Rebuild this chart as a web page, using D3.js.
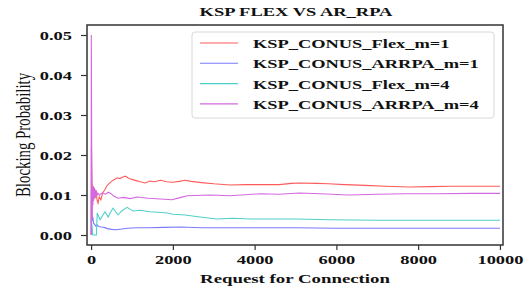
<!DOCTYPE html>
<html>
<head>
<meta charset="utf-8">
<script src="https://cdn.jsdelivr.net/npm/d3@7"></script>
<style>
body{margin:0;background:#fff;}
</style>
</head>
<body>
<div id="chart"></div>
<script>
// values: [request, blocking probability]
const flexM1=[[4,0],[8,0.022],[20,0.014],[35,0.0105],[50,0.0122],[65,0.0095],[80,0.0118],[100,0.0092],[120,0.0112],[145,0.0088],[170,0.008],[200,0.0095],[240,0.0088],[280,0.0105],[330,0.0112],[380,0.0122],[430,0.0128],[500,0.0134],[560,0.0138],[640,0.0143],[700,0.0141],[780,0.0145],[840,0.0147],[920,0.0142],[1000,0.0139],[1100,0.0136],[1200,0.0133],[1320,0.013],[1440,0.0135],[1550,0.0133],[1700,0.0137],[1850,0.0133],[2000,0.0132],[2150,0.0134],[2300,0.0137],[2450,0.0134],[2700,0.0131],[3000,0.0128],[3400,0.0125],[3800,0.0126],[4230,0.0126],[4600,0.0126],[4900,0.0129],[5100,0.013],[5500,0.0129],[5800,0.0128],[6200,0.0126],[6700,0.0124],[7200,0.0122],[7800,0.012],[8300,0.0121],[8800,0.0122],[9400,0.0122],[10000,0.0122]];
const arrpaM1=[[3,0],[8,0.011],[15,0.006],[25,0.0035],[40,0.0045],[60,0.003],[90,0.0026],[120,0.0022],[150,0.0025],[190,0.0021],[250,0.002],[320,0.0019],[400,0.0016],[500,0.0014],[620,0.0013],[750,0.0015],[900,0.0017],[1100,0.0018],[1400,0.0018],[1800,0.0019],[2200,0.002],[2700,0.0018],[3300,0.0018],[4200,0.0018],[5000,0.0018],[6000,0.0017],[7000,0.0017],[8000,0.0017],[9000,0.0017],[10000,0.0017]];
const flexM4=[[3,0.004],[10,0.0035],[25,0.002],[40,0],[90,0],[130,0],[150,0.0055],[220,0.0038],[290,0.005],[340,0.0058],[420,0.0045],[480,0.0058],[540,0.0067],[600,0.0058],[660,0.005],[750,0.006],[880,0.0069],[960,0.0064],[1030,0.006],[1200,0.0062],[1440,0.0058],[1650,0.0057],[1860,0.0055],[2000,0.0052],[2300,0.005],[2660,0.0045],[3080,0.004],[3470,0.0042],[3900,0.004],[4230,0.004],[5000,0.004],[5840,0.0038],[7000,0.0037],[8500,0.0037],[10000,0.0037]];
const arrpaM4=[[2,0],[5,0.05],[12,0.03],[20,0.012],[28,0.004],[36,0.012],[44,0.0075],[52,0.0122],[60,0.0085],[70,0.0118],[80,0.009],[92,0.0115],[105,0.0095],[120,0.0112],[140,0.0098],[165,0.0105],[200,0.0099],[240,0.0104],[293,0.0105],[350,0.0102],[420,0.0107],[480,0.0104],[560,0.0097],[660,0.0092],[800,0.0094],[950,0.0091],[1125,0.0095],[1400,0.0092],[1700,0.009],[1980,0.0088],[2200,0.0094],[2350,0.0098],[2900,0.01],[3400,0.0098],[4130,0.0103],[4600,0.0102],[5100,0.0105],[5600,0.0103],[6300,0.01],[7000,0.0102],[7700,0.0103],[8500,0.0103],[9300,0.0104],[10000,0.0104]];

const seriesNames=["KSP_CONUS_Flex_m=1","KSP_CONUS_ARRPA_m=1","KSP_CONUS_Flex_m=4","KSP_CONUS_ARRPA_m=4"];
const seriesData=[flexM1,arrpaM1,flexM4,arrpaM4];
const seriesColors=["#ff5a5a","#7a7aff","#4fd0cc","#d468e0"];
const xTicks=[0,2000,4000,6000,8000,10000];
const yTicks=[0,0.01,0.02,0.03,0.04,0.05];

const W=528,H=291;
const FONT="'Liberation Serif','Times New Roman',Times,serif";
const svg=d3.select("#chart").append("svg").attr("width",W).attr("height",H);

// the picture's text is stretched sideways; measure a legend entry to get the stretch
const probe=svg.append("text").attr("font-family",FONT).attr("font-weight","bold")
  .attr("font-size",13.5).text(seriesNames[1]);
const SX=226/probe.node().getComputedTextLength();
probe.remove();

const x=d3.scaleLinear().domain([-100,10075]).range([87,503]);
const y=d3.scaleLinear().domain([-0.0025,0.0525]).range([245,25]);

const xAxis=svg.append("g").attr("transform","translate(0,245)")
  .call(d3.axisBottom(x).tickValues(xTicks).tickSize(5).tickPadding(4.4).tickFormat(d3.format("d")));
const yAxis=svg.append("g").attr("transform","translate(87,0)")
  .call(d3.axisLeft(y).tickValues(yTicks).tickSize(6).tickFormat(d3.format(".2f")));
[xAxis,yAxis].forEach(a=>{
  a.attr("font-family",FONT).attr("font-size",13.5).attr("font-weight","bold");
  a.select(".domain").remove();
  a.selectAll("line").attr("stroke","#333").attr("stroke-width",1.2);
  a.selectAll("text").attr("fill","#111").attr("transform",`scale(${SX},1)`);
});
yAxis.selectAll("text").attr("x",-15/SX);

svg.append("clipPath").attr("id","clip").append("rect")
  .attr("x",87).attr("y",25).attr("width",416).attr("height",220);

const line=d3.line().x(d=>x(d[0])).y(d=>y(d[1]));
svg.append("g").attr("clip-path","url(#clip)")
  .selectAll("path").data(seriesData).enter().append("path")
  .attr("d",line)
  .attr("fill","none")
  .attr("stroke",(d,i)=>seriesColors[i])
  .attr("stroke-width",1.1);

svg.append("rect").attr("x",87).attr("y",25).attr("width",416).attr("height",220)
  .attr("fill","none").attr("stroke","#333").attr("stroke-width",1.5);

function label(t,size,tr,anchor,weight){
  return svg.append("text").attr("font-family",FONT).attr("font-weight",weight||"bold")
    .attr("font-size",size).attr("fill","#111")
    .attr("text-anchor",anchor||"start").attr("transform",tr).text(t);
}
// stretch a centred label so it spans the width seen in the picture
function fitLabel(t,size,cx,cy,w){
  const el=label(t,size,`translate(${cx},${cy})`,"middle");
  const s=w/el.node().getComputedTextLength();
  el.attr("transform",`translate(${cx},${cy}) scale(${s},1)`);
  return el;
}

// legend
const lg=svg.append("g");
lg.append("rect").attr("x",192).attr("y",32).attr("width",302).attr("height",86)
  .attr("rx",3).attr("fill","#fff").attr("fill-opacity",0.8)
  .attr("stroke","#d8d8d8").attr("stroke-width",1);
seriesNames.forEach((n,i)=>{
  const ly=43+i*20.3;
  lg.append("line").attr("x1",200).attr("x2",238).attr("y1",ly).attr("y2",ly)
    .attr("stroke",seriesColors[i]).attr("stroke-width",1.1);
  label(n,13.5,`translate(253,${ly+5}) scale(${SX},1)`);
});

fitLabel("KSP FLEX VS AR_RPA",13,296,16,193);
fitLabel("Request for Connection",13.5,295,283,190);
const yl=label("Blocking Probability",13.5,`translate(30,135) scale(${SX},1) rotate(-90)`,"middle","normal");
const ylen=yl.node().getComputedTextLength();
yl.attr("font-size",13.5*124/ylen);
</script>
</body>
</html>
